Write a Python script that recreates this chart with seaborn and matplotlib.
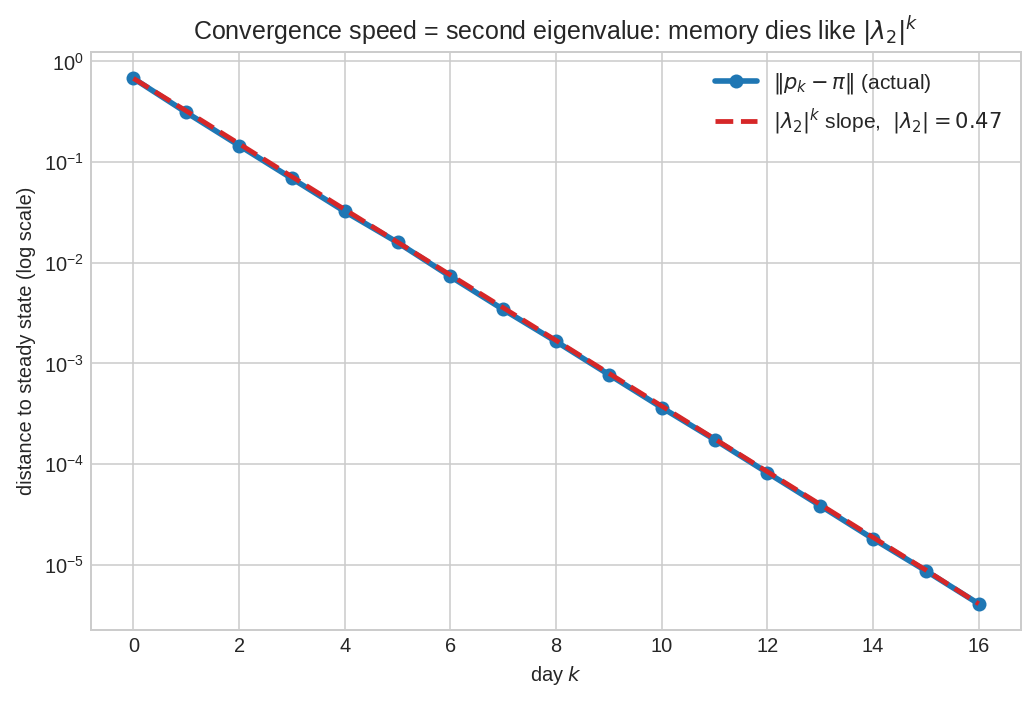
import numpy as np
import pandas as pd
import matplotlib
matplotlib.use("Agg")
import matplotlib.pyplot as plt
import seaborn as sns

# values (log-scale y)
days = list(range(17))
dist_actual = [0.678, 0.311, 0.146, 0.0687, 0.0323, 0.0159, 0.00730, 0.00343,
               0.00165, 0.000774, 0.000364, 0.000175, 8.2e-5, 3.86e-5,
               1.81e-5, 8.7e-6, 4.09e-6]
dist_slope = [0.678, 0.322, 0.152, 0.0716, 0.0338, 0.0160, 0.00755, 0.00357,
              0.00169, 0.000797, 0.000377, 0.000178, 8.4e-5, 3.97e-5,
              1.87e-5, 8.85e-6, 4.09e-6]

plt.style.use("seaborn-v0_8-whitegrid")
plt.rcParams["font.family"] = ["Liberation Sans", "DejaVu Sans"]

df_actual = pd.DataFrame({"day": days, "dist": dist_actual})
df_slope = pd.DataFrame({"day": days, "dist": dist_slope})

fig, ax = plt.subplots(figsize=(1036 / 144, 704 / 144), dpi=144)
fig.subplots_adjust(left=0.088, right=0.9855, top=0.926, bottom=0.105)

sns.lineplot(data=df_actual, x="day", y="dist", ax=ax, color="#1f77b4",
             linewidth=2.8, marker="o", markersize=7, markeredgewidth=0,
             label=r"$\|p_k - \pi\|$ (actual)")
sns.lineplot(data=df_slope, x="day", y="dist", ax=ax, color="#d62728",
             linewidth=2.4, linestyle="--",
             label=r"$|\lambda_2|^k$ slope,  $|\lambda_2| = 0.47$")

ax.set_yscale("log")
ax.set_xticks(range(0, 17, 2))
ax.set_xlabel("day $k$")
ax.set_ylabel("distance to steady state (log scale)")
ax.set_title(r"Convergence speed = second eigenvalue: memory dies like $|\lambda_2|^k$",
             fontsize=12.5)
ax.legend(loc="upper right", fontsize=10.5, handlelength=2.0)
for s in ax.spines.values():
    s.set_visible(True)
    s.set_color("#cccccc")

fig.savefig("out.png", dpi=144)
